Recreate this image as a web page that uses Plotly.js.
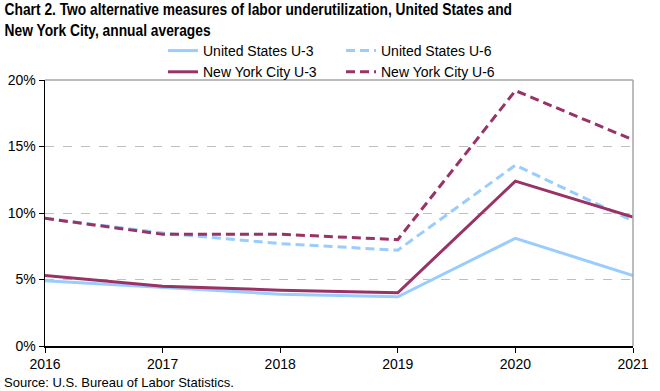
<!DOCTYPE html>
<html>
<head>
<meta charset="utf-8">
<script src="https://cdn.plot.ly/plotly-3.0.1.min.js"></script>
<style>html,body{margin:0;padding:0;background:#fff;}#chart{width:660px;height:391px;}</style>
</head>
<body>
<div id="chart"></div>
<script>
const years = [2016, 2017, 2018, 2019, 2020, 2021];
const usU3 = [4.9, 4.4, 3.9, 3.7, 8.1, 5.3];
const usU6 = [9.6, 8.5, 7.7, 7.2, 13.6, 9.4];
const nycU3 = [5.3, 4.5, 4.2, 4.0, 12.4, 9.7];
const nycU6 = [9.6, 8.4, 8.4, 8.0, 19.2, 15.5];
const seriesNames = ["United States U-3", "United States U-6", "New York City U-3", "New York City U-6"];

const blue = "#99CCFF", maroon = "#993366";
const mk = (y, name, color, dash, lg) => ({
  x: years, y: y, name: name, type: "scatter", mode: "lines", legend: lg,
  line: {color: color, width: 3, dash: dash}
});
const data = [
  mk(usU3, seriesNames[0], blue, "solid", "legend"),
  mk(usU6, seriesNames[1], blue, "9px,5px", "legend2"),
  mk(nycU3, seriesNames[2], maroon, "solid", "legend"),
  mk(nycU6, seriesNames[3], maroon, "9px,5px", "legend2")
];
const font = "Liberation Sans, Arial, sans-serif";
const W = 588, H = 266;
const legBase = {orientation: "v", xanchor: "left", y: 1 + (80 - 35) / H, yanchor: "top",
  font: {size: 14}, tracegroupgap: 0, itemwidth: 30, bgcolor: "rgba(0,0,0,0)"};
const layout = {
  width: 660, height: 391,
  margin: {l: 45, r: 27, t: 80, b: 45, autoexpand: false},
  paper_bgcolor: "#fff", plot_bgcolor: "#fff",
  font: {family: font, size: 14, color: "#000"},
  showlegend: true,
  legend: Object.assign({}, legBase, {x: (163 - 45) / W}),
  legend2: Object.assign({}, legBase, {x: (341 - 45) / W}),
  xaxis: {range: [2016, 2021], tickvals: years, ticktext: years.map(String),
          showgrid: false, zeroline: false, showline: true, linecolor: "#000", linewidth: 1.5,
          ticks: "outside", ticklen: 5, tickcolor: "#000", tickfont: {size: 14}},
  yaxis: {range: [0, 20], dtick: 5, ticksuffix: "%", showgrid: true, gridcolor: "#BFBFBF",
          griddash: "dash", zeroline: false, showline: true, linecolor: "#000", linewidth: 1.5,
          ticks: "outside", ticklen: 5, tickcolor: "#000", tickfont: {size: 14}},
  shapes: [
    {type: "line", xref: "paper", yref: "paper", x0: 0, x1: 1, y0: 1, y1: 1, line: {color: "#A6A6A6", width: 1.5}},
    {type: "line", xref: "paper", yref: "paper", x0: 1, x1: 1, y0: 0, y1: 1, line: {color: "#A6A6A6", width: 1.5}}
  ],
  annotations: [
    {text: "<b>Chart 2. Two alternative measures of labor underutilization, United States and<br>New York City, annual averages</b>",
     xref: "paper", yref: "paper", x: -45 / W, y: 1 + 81 / H, xanchor: "left", yanchor: "top",
     align: "left", showarrow: false, font: {size: 16, family: font}},
    {text: "Source: U.S. Bureau of Labor Statistics.", xref: "paper", yref: "paper",
     x: -43 / W, y: -27 / H, xanchor: "left", yanchor: "top", showarrow: false, font: {size: 13, family: font}}
  ]
};
Plotly.newPlot("chart", data, layout, {staticPlot: true, displayModeBar: false}).then(function () {
  // condense the title horizontally to mimic the narrow bold face of the original
  const t = document.querySelector(".annotation-text");
  if (t) {
    const bb = t.getBBox();
    const target = 508;
    const s = Math.min(1, target / bb.width);
    const x0 = bb.x;
    t.setAttribute("transform", "translate(" + (x0 * (1 - s) + (5 - x0) * s) + ",0) scale(" + s + ",1)");
  }
});
</script>
</body>
</html>
